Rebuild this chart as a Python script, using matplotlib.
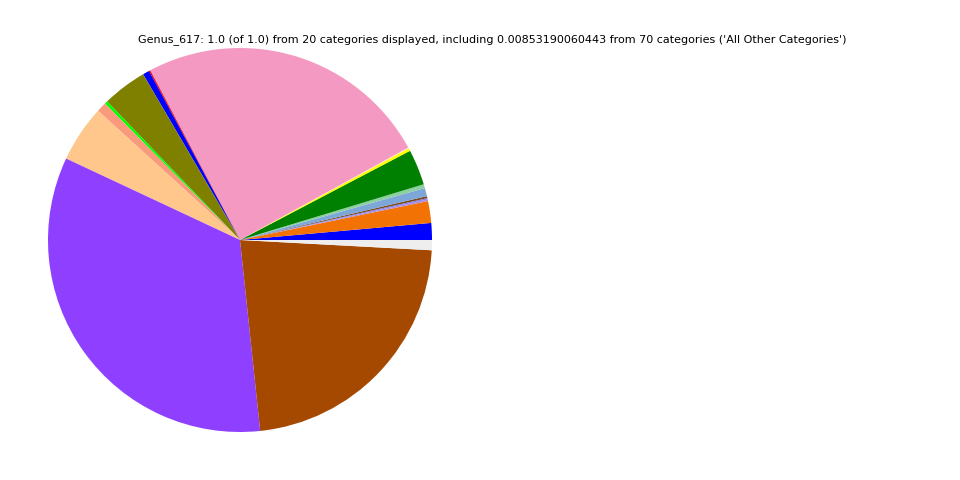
import matplotlib
matplotlib.use("Agg")
import matplotlib.pyplot as plt

# Relative abundance of each displayed genus category (fractions of 1.0)
categories = [f"Category_{i + 1}" for i in range(19)] + ["All Other Categories"]
values = [
    0.0142, 0.0183, 0.0014, 0.0011, 0.0017, 0.0069, 0.0033, 0.0300, 0.0025, 0.0006,
    0.2475, 0.0011, 0.0056, 0.0375, 0.0025, 0.0083, 0.0478, 0.3365, 0.2247, 0.00853,
]
colors = [
    "#0000ff", "#f27304", "#b08ad8", "#7f7fff", "#7a4b1e", "#7ca7d8", "#8ccfa0",
    "#008000", "#ffff00", "#ffe6e6", "#f49ac2", "#ff0000", "#0000ff", "#808000",
    "#00ff00", "#f99a7c", "#ffc78b", "#8f3fff", "#a54800", "#eeeeee",
]
title = ("Genus_617: 1.0 (of 1.0) from 20 categories displayed, including "
         "0.00853190060443 from 70 categories ('All Other Categories')")

fig = plt.figure(figsize=(9.6, 4.8), dpi=100)
ax = fig.add_axes([0.05, 0.1, 0.4, 0.8])
ax.pie(values, colors=colors, startangle=0, counterclock=True)
ax.set_xlim(-1, 1)
ax.set_ylim(-1, 1)
ax.set_aspect("equal")
ax.axis("off")

fig.text(0.5125, 1 - 40 / 480, title, ha="center", va="center", fontsize=8)

fig.savefig("out.png", dpi=100)
